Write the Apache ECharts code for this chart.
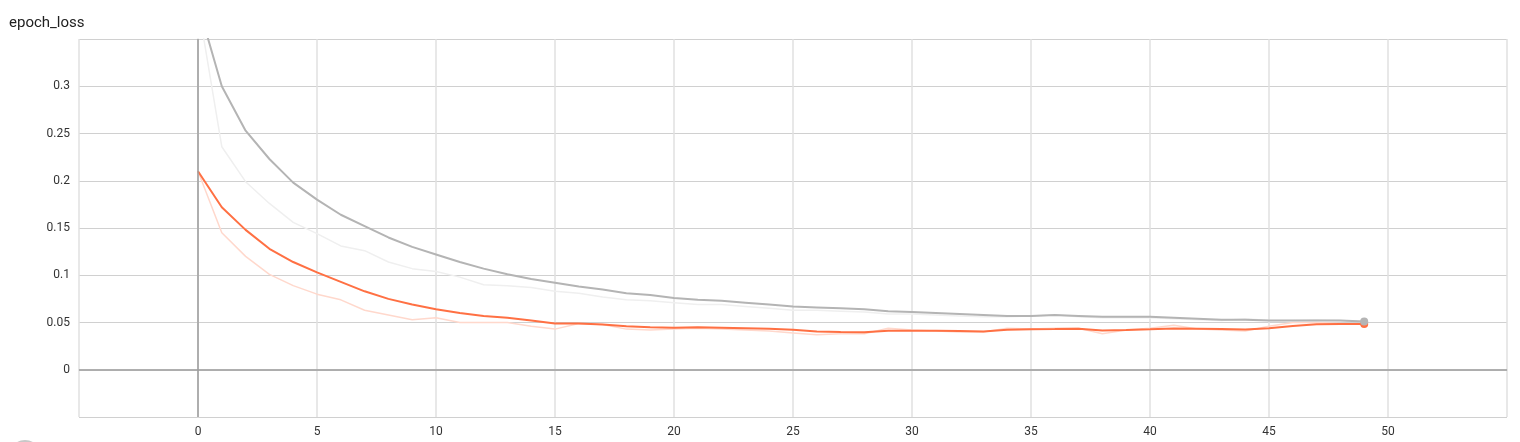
<!DOCTYPE html>
<html>
<head>
<meta charset="utf-8">
<title>epoch_loss</title>
<script src="https://cdn.jsdelivr.net/npm/echarts@6/dist/echarts.min.js"></script>
<style>
  html,body{margin:0;padding:0;background:#fff;}
  #main{width:1520px;height:442px;}
</style>
</head>
<body>
<div id="main"></div>
<script>
// epochs 0..49
let epochs=[]
for(let i=0;i<50;i++){epochs.push(i)}

// 灰色（validation）平滑曲线 + 原始值
let valSmooth=[0.387,0.300,0.253,0.223,0.198,0.180,0.164,0.152,0.140,0.130,
  0.122,0.114,0.107,0.101,0.096,0.092,0.088,0.085,0.081,0.079,
  0.076,0.074,0.073,0.071,0.069,0.067,0.066,0.065,0.064,0.062,
  0.061,0.060,0.059,0.058,0.057,0.057,0.058,0.057,0.056,0.056,
  0.056,0.055,0.054,0.053,0.053,0.052,0.052,0.052,0.052,0.051]
let valRaw=[0.387,0.236,0.199,0.176,0.156,0.144,0.131,0.126,0.114,0.107,
  0.104,0.098,0.090,0.089,0.087,0.083,0.081,0.077,0.074,0.073,
  0.071,0.069,0.069,0.067,0.065,0.063,0.063,0.062,0.061,0.059,
  0.059,0.058,0.057,0.056,0.056,0.057,0.058,0.056,0.055,0.055,
  0.055,0.054,0.053,0.052,0.054,0.052,0.052,0.053,0.052,0.051]

// 橙色（train）平滑曲线 + 原始值
let trainSmooth=[0.210,0.172,0.148,0.128,0.114,0.103,0.093,0.083,0.075,0.069,
  0.064,0.060,0.057,0.055,0.052,0.049,0.049,0.048,0.046,0.045,
  0.0445,0.045,0.0445,0.044,0.0435,0.0424,0.0406,0.040,0.0398,0.0413,
  0.0413,0.0413,0.041,0.0406,0.0422,0.0428,0.043,0.0433,0.0415,0.042,
  0.0428,0.0437,0.0434,0.043,0.0426,0.0438,0.0463,0.0482,0.0485,0.0483]
let trainRaw=[0.210,0.145,0.120,0.101,0.089,0.080,0.074,0.063,0.058,0.053,
  0.055,0.050,0.050,0.050,0.046,0.043,0.049,0.048,0.043,0.042,
  0.043,0.044,0.043,0.042,0.041,0.039,0.037,0.038,0.038,0.044,
  0.042,0.041,0.040,0.040,0.044,0.043,0.044,0.044,0.038,0.042,
  0.044,0.047,0.043,0.042,0.041,0.046,0.050,0.050,0.049,0.048]

let xTicks=[0,5,10,15,20,25,30,35,40,45,50]
let yTicks=[0,0.05,0.1,0.15,0.2,0.25,0.3]

function pairs(ys){
  return epochs.map((e,i)=>[e,ys[i]])
}

//只在最后一个点画圆点
function lastDot(size){
  return function(val,params){
    return params.dataIndex==epochs.length-1?size:0
  }
}

function lineSeries(name,ys,color,width,z,dot){
  return {
    name:name,
    type:'line',
    data:pairs(ys),
    showSymbol:!!dot,
    showAllSymbol:true,
    symbol:'circle',
    symbolSize:dot?lastDot(8):0,
    itemStyle:{color:color},
    lineStyle:{color:color,width:width},
    emphasis:{disabled:true},
    silent:true,
    animation:false,
    z:z
  }
}

let chart=echarts.init(document.getElementById('main'),null,{renderer:'canvas'})

let option={
  animation:false,
  textStyle:{fontFamily:'Roboto'},
  title:{
    text:'epoch_loss',
    left:4,
    top:11,
    textStyle:{fontSize:15,fontWeight:'normal',color:'#212121',fontFamily:'Roboto'}
  },
  grid:{left:79,right:13,top:39,bottom:25},
  xAxis:{
    type:'value',
    min:-5,
    max:55,
    interval:5,
    axisLine:{show:true,lineStyle:{color:'#dcdcdc',width:1.5}},
    axisTick:{show:false},
    axisLabel:{
      color:'#333',
      fontSize:12,
      margin:9,
      fontFamily:'Roboto',
      formatter:function(v){return xTicks.indexOf(v)>=0?String(v):''}
    },
    splitLine:{show:true,lineStyle:{color:'#e0e0e0',width:1.5}}
  },
  yAxis:{
    type:'value',
    min:-0.05,
    max:0.35,
    interval:0.05,
    axisLine:{show:true,lineStyle:{color:'#dcdcdc',width:1.5}},
    axisTick:{show:false},
    axisLabel:{
      color:'#333',
      fontSize:12,
      margin:9,
      fontFamily:'Roboto',
      formatter:function(v){
        let r=Math.round(v*100)/100
        return yTicks.indexOf(r)>=0?String(r):''
      }
    },
    splitLine:{show:true,lineStyle:{color:'#d0d0d0',width:1}}
  },
  series:[
    lineSeries('validation_raw',valRaw,'#efefef',1.5,1,false),
    lineSeries('train_raw',trainRaw,'#ffd8cc',1.5,2,false),
    lineSeries('train',trainSmooth,'#ff7043',2,4,true),
    Object.assign(lineSeries('validation',valSmooth,'#b4b4b4',2,5,true),{
      //零刻度线
      markLine:{
        silent:true,
        symbol:'none',
        label:{show:false},
        animation:false,
        lineStyle:{color:'#9e9e9e',width:1.5,type:'solid'},
        data:[{yAxis:0},{xAxis:0}]
      }
    })
  ],
  graphic:[{
    type:'circle',
    shape:{cx:25,cy:456,r:16},
    style:{fill:'#c8c8c8'},
    silent:true
  }]
}

chart.setOption(option)
</script>
</body>
</html>
